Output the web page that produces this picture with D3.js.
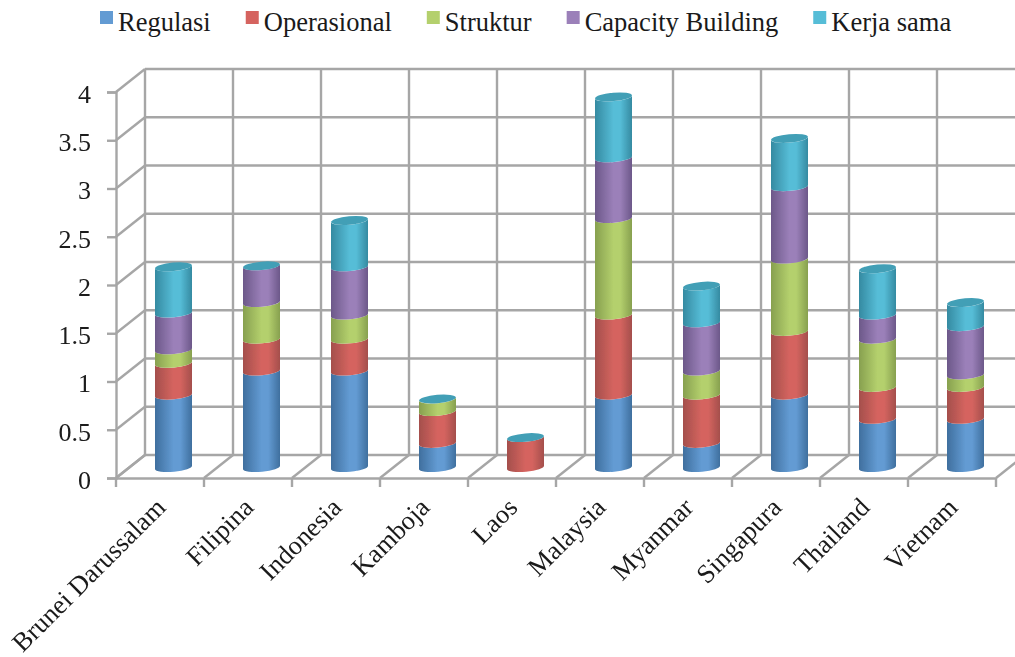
<html>
<head>
	<meta charset='utf-8' />
	<title>Stacked cylinders</title>
	<script src="https://cdn.jsdelivr.net/npm/d3@7"></script>
	<style>
	body { margin: 0; background: #fff; }
	text { font-family: "Liberation Serif", serif; fill: #1a1a1a; }
	.grid line, .axis line, .axis path { stroke: #a6a6a6; stroke-width: 2.4; fill: none; }
	</style>
</head>
<body>
<script>

var countries = ["Brunei Darussalam","Filipina","Indonesia","Kamboja","Laos","Malaysia","Myanmar","Singapura","Thailand","Vietnam"];
var seriesNames = ["Regulasi","Operasional","Struktur","Capacity Building","Kerja sama"];

var regulasi    = [0.75,1,1,0.25,0,0.75,0.25,0.75,0.5,0.5];
var operasional = [0.33,0.33,0.33,0.33,0.31,0.83,0.5,0.66,0.33,0.33];
var struktur    = [0.14,0.38,0.25,0.13,0,1,0.25,0.75,0.5,0.13];
var capacity    = [0.38,0.38,0.5,0,0,0.63,0.5,0.75,0.25,0.5];
var kerjasama   = [0.48,0,0.48,0,0,0.63,0.38,0.5,0.48,0.25];

var colEdge = ["#3f6f9e","#a44f4c","#87a04f","#6c5889","#358aa1"];
var colMid  = ["#639bd3","#d5645f","#b4d06d","#9b80b9","#56bdd7"];
var capColor = "#429fb6";
var yTicks = [0,0.5,1,1.5,2,2.5,3,3.5,4];

var series = [regulasi,operasional,struktur,capacity,kerjasama];

var width = 1015, height = 657;
var depthX = 29, depthY = 23;   // how far the back wall sits from the front axes

var svg = d3.select("body").append("svg").attr("width",width).attr("height",height).style("display","block");

var defs = svg.append("defs");
var soft = defs.append("filter").attr("id","soft");
soft.append("feGaussianBlur").attr("stdDeviation",0.5);

seriesNames.forEach(function(s,i) {
	var g = defs.append("linearGradient").attr("id","cyl"+i);
	g.append("stop").attr("offset","0%").attr("stop-color",colEdge[i]);
	g.append("stop").attr("offset","50%").attr("stop-color",colMid[i]);
	g.append("stop").attr("offset","68%").attr("stop-color",colMid[i]);
	g.append("stop").attr("offset","100%").attr("stop-color",colEdge[i]);
});

var xScale = d3.scaleBand().domain(countries).range([116,996]);
var yScale = d3.scaleLinear().domain([0,4]).range([478,92]);
var backY = function(v) { return yScale(v) - depthY; };

var plot = svg.append("g").attr("filter","url(#soft)");

// back wall and side wall
var grid = plot.append("g").attr("class","grid");
grid.selectAll(".h").data(yTicks).enter().append("line")
	.attr("x1",116+depthX).attr("x2",width)
	.attr("y1",backY).attr("y2",backY);
grid.selectAll(".side").data(yTicks).enter().append("line")
	.attr("x1",116).attr("x2",116+depthX)
	.attr("y1",yScale).attr("y2",backY);

var xEdges = countries.map(function(c){ return xScale(c); }).concat([xScale.range()[1]]);
grid.selectAll(".v").data(xEdges).enter().append("line")
	.attr("x1",function(d){ return d+depthX; }).attr("x2",function(d){ return d+depthX; })
	.attr("y1",backY(4)).attr("y2",backY(0));
grid.selectAll(".floor").data(xEdges).enter().append("line")
	.attr("x1",function(d){ return d; }).attr("x2",function(d){ return d+depthX; })
	.attr("y1",yScale(0)).attr("y2",backY(0));

// front axes
var yAxis = plot.append("g").attr("class","axis").attr("transform","translate(116,0)")
	.call(d3.axisLeft(yScale).tickValues(yTicks).tickSize(9).tickPadding(16).tickFormat(d3.format("")));
var xAxis = plot.append("g").attr("class","axis").attr("transform","translate(0,478)")
	.call(d3.axisBottom(xScale).tickSize(0).tickFormat(""));
xAxis.selectAll(".tick-edge").data(xEdges).enter().append("line")
	.attr("x1",function(d){ return d; }).attr("x2",function(d){ return d; })
	.attr("y1",0).attr("y2",9);

// cylinders
var rx = 18.5, ry = 4.2, tilt = 1.7, rot = -5;
var baseShift = 10.5;  // bar floor sits between front axis and back wall
var cylCx = function(c) { return xScale(c) + xScale.bandwidth()/2 + 13.5; };
var cylY = function(v) { return yScale(v) - baseShift; };

function segPath(cx,y0,y1) {
	var l = cx-rx, r = cx+rx;
	return "M"+l+","+(y0+tilt)
		+"A"+rx+","+ry+" "+rot+" 0 0 "+r+","+(y0-tilt)
		+"L"+r+","+(y1-tilt)
		+"A"+rx+","+ry+" "+rot+" 0 1 "+l+","+(y1+tilt)+"Z";
}

var bars = plot.selectAll(".bar").data(countries).enter().append("g").attr("class","bar");
bars.each(function(c,ci) {
	var g = d3.select(this), sum = 0;
	series.forEach(function(vals,si) {
		var v = vals[ci];
		if (v > 0) {
			g.append("path")
				.attr("d",segPath(cylCx(c),cylY(sum),cylY(sum+v)))
				.attr("fill","url(#cyl"+si+")");
		}
		sum += v;
	});
	g.append("ellipse")
		.attr("rx",rx).attr("ry",ry)
		.attr("transform","translate("+cylCx(c)+","+cylY(sum)+") rotate("+rot+")")
		.attr("fill",capColor);
});

// text
yAxis.selectAll("text").style("font-size","26px").style("fill","#1a1a1a").attr("dy","0.4em");

svg.append("g").selectAll("text").data(countries).enter().append("text")
	.attr("text-anchor","end")
	.attr("transform",function(c){ return "translate("+(xScale(c)+xScale.bandwidth()/2+7)+",509) rotate(-45)"; })
	.style("font-size","26.5px")
	.text(function(c){ return c; });

// legend, flowed left to right
var legend = svg.append("g");
var lx = 100;
seriesNames.forEach(function(s,i) {
	legend.append("rect").attr("x",lx).attr("y",11).attr("width",13).attr("height",13).attr("fill",colMid[i]).attr("filter","url(#soft)");
	var t = legend.append("text").attr("x",lx+18).attr("y",30.5)
		.style("font-size","26.5px").text(s);
	lx += 18 + t.node().getComputedTextLength() + 35;
});

</script>
</body>
</html>
